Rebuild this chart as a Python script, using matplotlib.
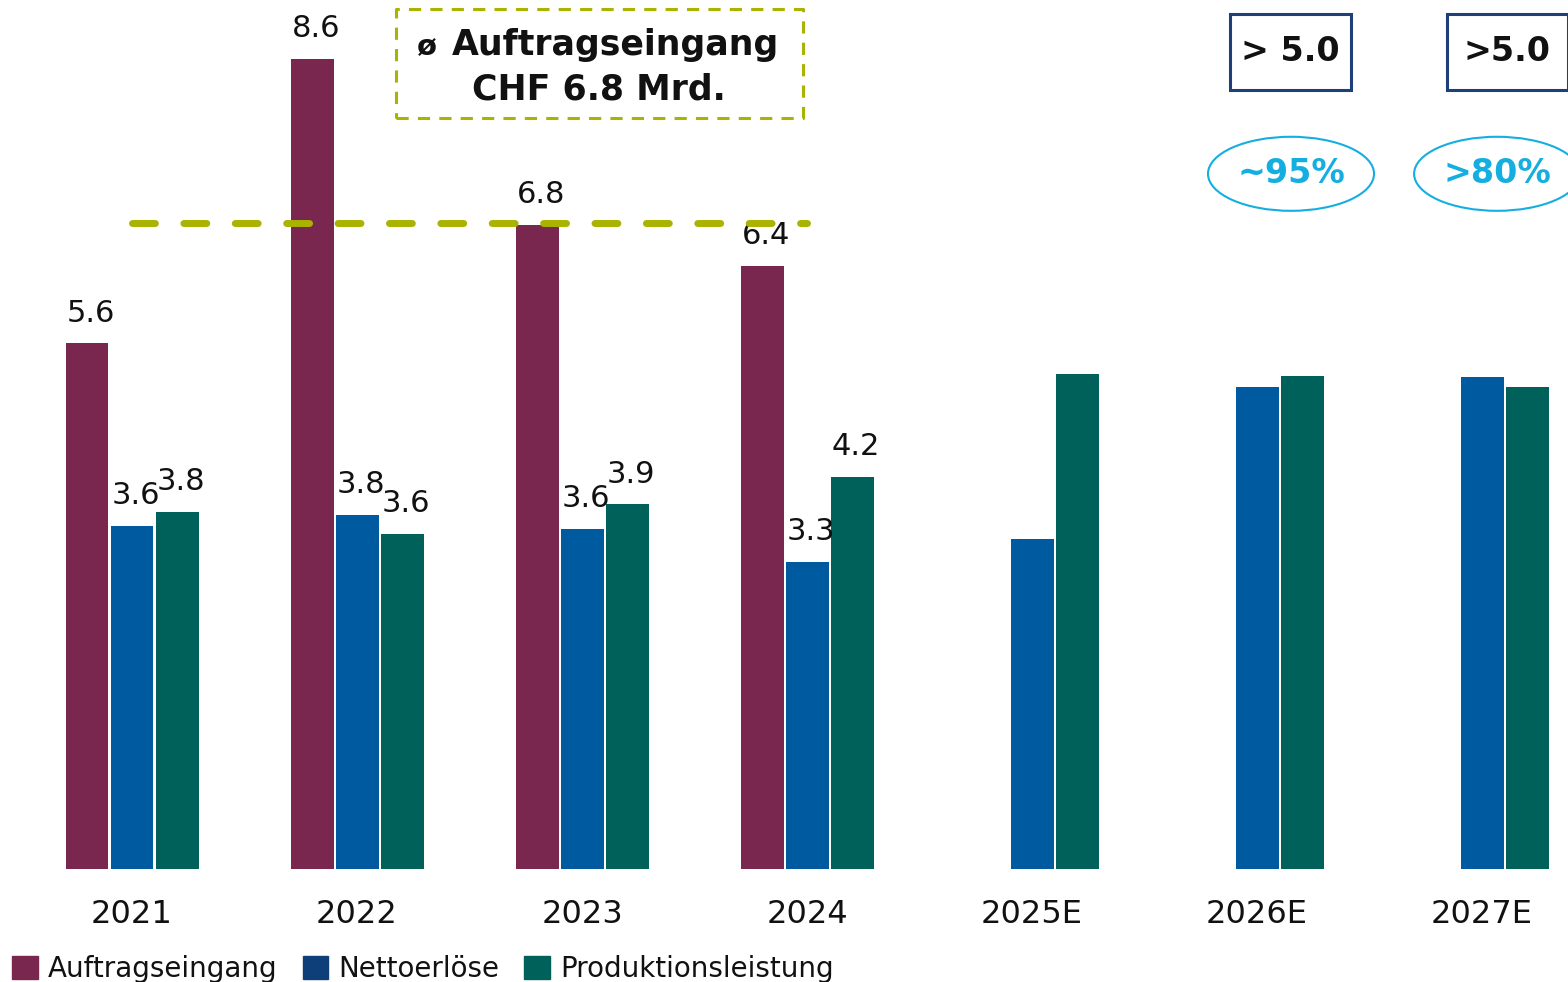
import numpy as np
import matplotlib
matplotlib.use('Agg')
import matplotlib.pyplot as plt
from matplotlib.patches import Rectangle, Ellipse, Patch

# data (CHF Mrd.)
years = ['2021', '2022', '2023', '2024', '2025E', '2026E', '2027E']
auftragseingang = [5.58, 8.60, 6.84, 6.40]
nettoerloese = [3.64, 3.76, 3.61, 3.26, 3.50, 5.12, 5.22]
produktion = [3.79, 3.56, 3.87, 4.16, 5.25, 5.23, 5.12]
series_names = ['Auftragseingang', 'Nettoerlöse', 'Produktionsleistung']
targets = ['> 5.0', '>5.0']
target_shares = ['~95%', '>80%']
avg_text = 'CHF 6.8 Mrd.'

PURPLE = '#7A2750'
BLUE = '#005AA0'
GREEN = '#00615B'
LEGEND_BLUE = '#0E3F78'
OLIVE = '#A9B300'
NAVY = '#1E3F78'
CYAN = '#15AEE0'
TXT = '#111111'

fig = plt.figure(figsize=(15.68, 9.82), dpi=100)
ax = fig.add_axes([0, 0, 1, 1])
ax.set_xlim(-0.5867, 6.382)
ax.set_ylim(-1.2, 9.225)
ax.axis('off')

x = np.arange(len(years))
w = 0.191
step = 0.2
n_hist = len(auftragseingang)

ax.bar(x[:n_hist] - step, auftragseingang, width=w, color=PURPLE)
ax.bar(x, nettoerloese, width=w, color=BLUE)
ax.bar(x + step, produktion, width=w, color=GREEN)

# value labels for actuals only, left-aligned on each bar
for i in range(n_hist):
    for off, v in ((-step, auftragseingang[i]), (0, nettoerloese[i]), (step, produktion[i])):
        ax.text(x[i] + off - w / 2 + 0.004, v + 0.23, f'{v:.1f}', ha='left', va='baseline',
                fontsize=22, color=TXT)

for i, yr in enumerate(years):
    ax.text(x[i], -0.573, yr, ha='center', va='baseline', fontsize=23, color=TXT)

# average order intake line
avg = np.mean(auftragseingang)
ax.plot([x[0], x[n_hist - 1]], [avg, avg], color=OLIVE, lw=5.0,
        linestyle=(0, (3.3, 4.1)), dash_capstyle='round', zorder=3)

box = Rectangle((1.173, 7.97), 1.809, 1.16, fill=False, edgecolor=OLIVE, lw=2.2,
                linestyle=(0, (4, 3)), joinstyle='round', zorder=4)
ax.add_patch(box)
ax.text(1.311, 8.641, 'ø', ha='center', va='baseline', fontsize=21, fontweight='bold', color=TXT)
ax.text(2.147, 8.641, series_names[0], ha='center', va='baseline', fontsize=25,
        fontweight='bold', color=TXT)
ax.text(2.076, 8.174, avg_text, ha='center', va='baseline', fontsize=25,
        fontweight='bold', color=TXT)

# targets for 2026E / 2027E
box_dx = [0.147, 0.113]
box_left = [4.88, 5.844]
ell_dx = [0.151, 0.067]
for k, i in enumerate([5, 6]):
    ax.add_patch(Rectangle((box_left[k], 8.27), 0.538, 0.807, fill=False,
                           edgecolor=NAVY, lw=2.2, zorder=4))
    ax.text(x[i] + box_dx[k], 8.673, targets[k], ha='center', va='center', fontsize=24,
            fontweight='bold', color=TXT)
    ax.add_patch(Ellipse((x[i] + ell_dx[k], 7.38), 0.738, 0.786, fill=False,
                         edgecolor=CYAN, lw=1.5, zorder=4))
    ax.text(x[i] + ell_dx[k], 7.38, target_shares[k], ha='center', va='center', fontsize=24,
            fontweight='bold', color=CYAN)

handles = [Patch(color=c) for c in (PURPLE, LEGEND_BLUE, GREEN)]
fig.legend(handles, series_names, loc='lower left', bbox_to_anchor=(0.0077, -0.001),
           ncol=3, frameon=False, fontsize=20, handlelength=0.93, handleheight=0.93,
           handletextpad=0.36, columnspacing=0.9, borderpad=0, borderaxespad=0,
           labelcolor=TXT)

fig.savefig('out.png', dpi=100)
